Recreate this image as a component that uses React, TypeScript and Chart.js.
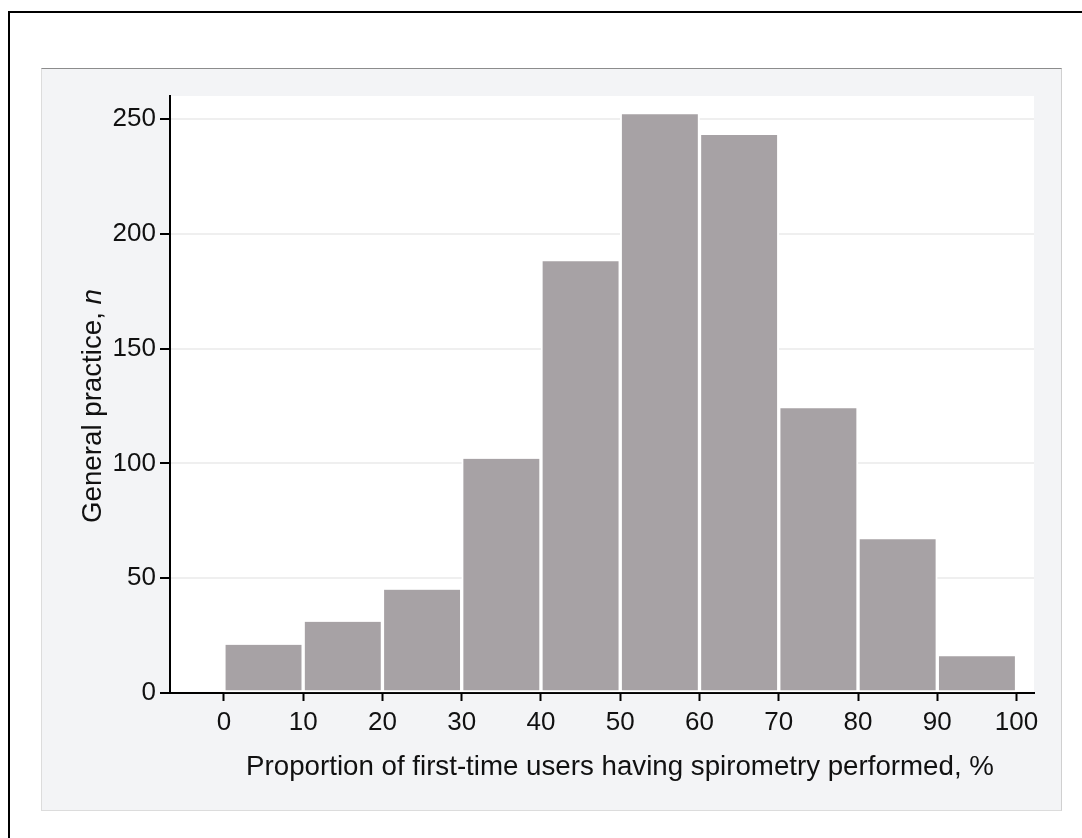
import React, { useEffect, useRef } from "react";
import { Chart, registerables } from "chart.js";

Chart.register(...registerables);

const binCenters = [5, 15, 25, 35, 45, 55, 65, 75, 85, 95];
const practiceCounts = [21, 31, 45, 102, 188, 252, 243, 124, 67, 16];
const xTickValues = [0, 10, 20, 30, 40, 50, 60, 70, 80, 90, 100];
const yTickValues = [0, 50, 100, 150, 200, 250];
const xTitle = "Proportion of first-time users having spirometry performed, %";
const yTitleMain = "General practice, ";
const yTitleItalic = "n";

const FONT = "'Liberation Sans', Arial, Helvetica, sans-serif";

const titlesPlugin = {
  id: "titlesPlugin",
  beforeDraw(chart: any) {
    const { ctx, chartArea } = chart;
    ctx.save();
    ctx.fillStyle = "#ffffff";
    ctx.fillRect(chartArea.left, chartArea.top, chartArea.right - chartArea.left, chartArea.bottom - chartArea.top);
    ctx.restore();
  },
  afterDraw(chart: any) {
    const { ctx, chartArea } = chart;
    const size = 27.7;
    ctx.save();
    ctx.fillStyle = "#111111";
    ctx.textBaseline = "alphabetic";
    // x title
    ctx.font = `${size}px ${FONT}`;
    ctx.textAlign = "center";
    ctx.fillText(xTitle, chartArea.left + 450, chartArea.bottom + 82);
    // y title
    ctx.translate(chartArea.left - 69, chartArea.top + 310);
    ctx.rotate(-Math.PI / 2);
    ctx.textAlign = "left";
    ctx.font = `${size}px ${FONT}`;
    const w1 = ctx.measureText(yTitleMain).width;
    ctx.font = `italic ${size}px ${FONT}`;
    const w2 = ctx.measureText(yTitleItalic).width;
    const start = -(w1 + w2) / 2;
    ctx.font = `${size}px ${FONT}`;
    ctx.fillText(yTitleMain, start, 0);
    ctx.font = `italic ${size}px ${FONT}`;
    ctx.fillText(yTitleItalic, start + w1, 0);
    ctx.restore();
  },
};

export default function App() {
  const canvasRef = useRef<HTMLCanvasElement | null>(null);

  useEffect(() => {
    if (!canvasRef.current) return;
    const chart = new Chart(canvasRef.current, {
      type: "bar",
      data: {
        datasets: [
          {
            data: binCenters.map((x, i) => ({ x, y: practiceCounts[i] })),
            backgroundColor: "#a7a2a5",
            borderColor: "#ffffff",
            borderWidth: { left: 2, right: 2, top: 0, bottom: 2 } as any,
            borderSkipped: false,
            barPercentage: 1,
            categoryPercentage: 1,
          } as any,
        ],
      },
      options: {
        animation: false,
        responsive: false,
        devicePixelRatio: 1,
        layout: { padding: { left: 0, top: 28, right: 28, bottom: 0 } },
        plugins: {
          legend: { display: false },
          tooltip: { enabled: false },
          title: { display: false },
        },
        scales: {
          x: {
            type: "linear",
            offset: false,
            min: -6.8,
            max: 102.2,
            afterFit: (s: any) => {
              s.height = 118;
            },
            afterBuildTicks: (s: any) => {
              s.ticks = xTickValues.map((v) => ({ value: v }));
            },
            grid: {
              offset: false,
              drawOnChartArea: false,
              drawTicks: true,
              tickLength: 8,
              tickColor: "#000000",
              tickWidth: 2,
            },
            border: { display: true, color: "#000000", width: 2 },
            ticks: {
              autoSkip: false,
              maxRotation: 0,
              padding: 6,
              color: "#111111",
              font: { family: FONT, size: 26 },
            },
          },
          y: {
            type: "linear",
            min: 0,
            max: 260,
            afterFit: (s: any) => {
              s.width = 129;
            },
            afterBuildTicks: (s: any) => {
              s.ticks = yTickValues.map((v) => ({ value: v }));
            },
            grid: {
              color: "#efefef",
              lineWidth: 2,
              drawTicks: true,
              tickLength: 10,
              tickColor: "#000000",
              tickWidth: 2,
            },
            border: { display: true, color: "#000000", width: 2 },
            ticks: {
              autoSkip: false,
              padding: 4,
              color: "#111111",
              font: { family: FONT, size: 26 },
            },
          },
        },
      },
      plugins: [titlesPlugin],
    });
    return () => chart.destroy();
  }, []);

  return (
    <div
      style={{
        position: "fixed",
        left: 0,
        top: 0,
        width: 1082,
        height: 838,
        background: "#ffffff",
        overflow: "hidden",
      }}
    >
      <div
        style={{
          position: "absolute",
          left: 8,
          top: 11,
          width: 1200,
          height: 1000,
          borderTop: "2px solid #000",
          borderLeft: "2px solid #000",
        }}
      />
      <div
        style={{
          position: "absolute",
          left: 41,
          top: 68,
          width: 1021,
          height: 743,
          boxSizing: "border-box",
          background: "#f3f4f6",
          borderTop: "1px solid #8c8c8c",
          borderLeft: "1px solid #dcdcdc",
          borderRight: "1px solid #d0d0d0",
          borderBottom: "1px solid #dcdcdc",
        }}
      />
      <canvas
        ref={canvasRef}
        width={1021}
        height={743}
        style={{ position: "absolute", left: 41, top: 68, width: 1021, height: 743 }}
      />
    </div>
  );
}
